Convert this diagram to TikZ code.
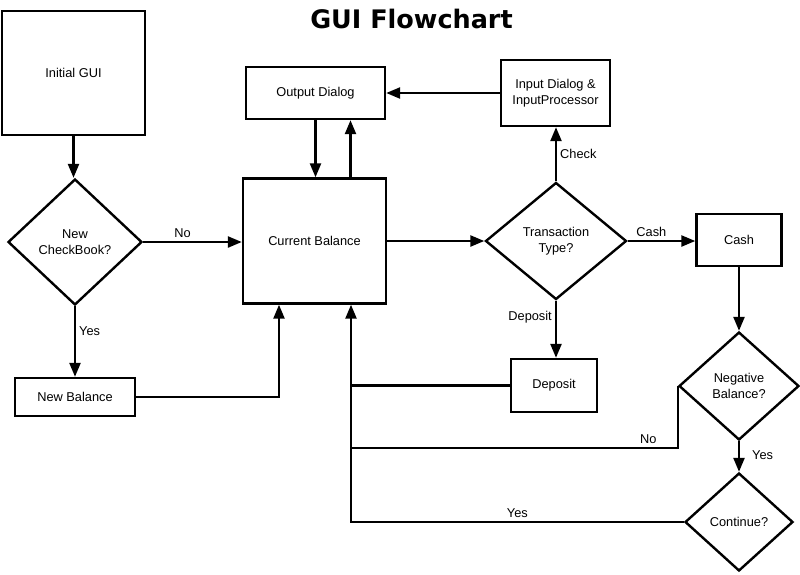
\documentclass[tikz,border=0pt]{standalone}
\usepackage{fontspec}
\setmainfont{Liberation Sans}
\newfontfamily\titlefont{DejaVu Sans}
\usetikzlibrary{shapes.geometric,arrows.meta}
\begin{document}
\begin{tikzpicture}[x=1pt,y=-1pt,
  every node/.style={font=\fontsize{12.8}{16}\selectfont},
  box/.style={draw,line width=2.4pt,inner sep=0pt,align=center},
  dia/.style={draw,diamond,line width=2.4pt,inner sep=0pt,align=center},
  conn/.style={line width=2.4pt},
  arr/.style={conn,-{Triangle[length=14pt,width=11pt]}},
  lbl/.style={inner sep=3pt}]
\useasboundingbox (0,0) rectangle (800,574);
% title
\node (title) at (411.5,19) {\titlefont\fontsize{25.5}{30}\selectfont\bfseries GUI Flowchart};
% boxes
\node[box,minimum width=143pt,minimum height=124pt] (init) at (73.5,73) {Initial GUI};
\node[box,minimum width=139pt,minimum height=52pt] (out) at (315.5,93) {Output Dialog};
\node[box,minimum width=109pt,minimum height=66pt] (inp) at (555.5,93) {Input Dialog \&\\InputProcessor};
\node[dia,minimum width=134pt,minimum height=126pt] (cb) at (75,242) {New\\CheckBook?};
\node[box,minimum width=143pt,minimum height=125pt] (cur) at (314.5,241) {Current Balance};
\node[dia,minimum width=141pt,minimum height=117pt] (tt) at (556,241) {Transaction\\Type?};
\node[box,minimum width=85pt,minimum height=52pt] (cash) at (739,240) {Cash};
\node[box,minimum width=120pt,minimum height=38pt] (newbal) at (75,397) {New Balance};
\node[box,minimum width=86pt,minimum height=53pt] (dep) at (554,385.5) {Deposit};
\node[dia,minimum width=120pt,minimum height=108pt] (neg) at (739,386) {Negative\\Balance?};
\node[dia,minimum width=108pt,minimum height=98pt] (cont) at (739,522) {Continue?};
% connectors
\draw[arr] (init.south) -- (init.south |- cb.north);
\draw[arr] (cb.east) -- node[lbl,above,pos=0.4]{No} (cb.east -| cur.west);
\draw[arr] (cb.south) -- node[lbl,right,pos=0.35]{Yes} (cb.south |- newbal.north);
\draw[arr] (newbal.east) -| ([xshift=-35.5pt]cur.south);
\draw[arr] (out.south) -- (out.south |- cur.north);
\draw[arr] ([xshift=36pt]cur.north) -- ([xshift=36pt]cur.north |- out.south);
\draw[arr] (inp.west) -- (inp.west -| out.east);
\draw[arr] (tt.west -| cur.east) -- (tt.west);
\draw[arr] (tt.north) -- node[lbl,right,pos=0.5]{Check} (tt.north |- inp.south);
\draw[arr] (tt.east) -- node[lbl,above,pos=0.35]{Cash} (tt.east -| cash.west);
\draw[arr] (tt.south) -- node[lbl,left,pos=0.28]{Deposit} (tt.south |- dep.north);
\draw[arr] (cash.south) -- (cash.south |- neg.north);
\draw[arr] (neg.south) -- node[lbl,right,xshift=9pt,pos=0.45]{Yes} (neg.south |- cont.north);
\coordinate (ret) at ([xshift=36.5pt]cur.south);
\draw[conn] (dep.west) -- (dep.west -| ret);
\draw[conn] (neg.west) -- ++(0,62) coordinate (nb) -- node[lbl,above,pos=0.09]{No} (nb -| ret);
\draw[arr] (cont.west) -- node[lbl,above]{Yes} (cont.west -| ret) -- (ret);
\end{tikzpicture}
\end{document}
